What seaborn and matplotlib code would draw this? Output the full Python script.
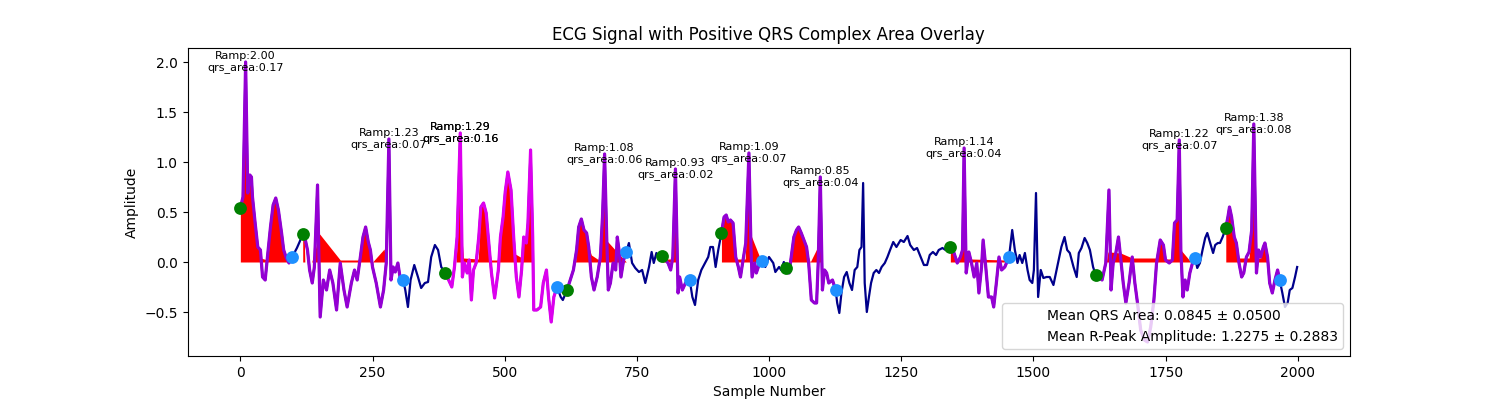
"""
ECG signal with the positive QRS area overlay
"""

import matplotlib
matplotlib.use("Agg")
import matplotlib.pyplot as plt
import pandas as pd
import seaborn as sns

# ECG samples (sample number, amplitude)
samples = [
    0, 5, 10, 14, 18, 21, 23, 28, 33, 38, 42, 47, 52, 57, 62, 67, 72, 78, 82, 87, 92, 97,
    102, 107, 112, 118,
    123, 127, 131, 136, 140, 146, 149, 151, 157, 163, 169, 175, 182, 189, 196, 202, 210, 216, 221,
    227, 232, 237, 242, 246, 250, 257, 265, 271, 276, 281, 285, 289, 293, 298, 302, 308,
    312, 317, 322, 329, 336, 342, 349, 355, 361, 368, 374, 380, 388,
    394, 400, 405, 410, 416, 420, 424, 429, 433, 437, 441, 446, 451, 455, 460, 465, 470, 475, 481,
    488, 492, 497, 501, 506, 512, 517, 522, 527, 532, 536, 541, 544, 549, 553, 555, 561, 568, 573,
    579, 583, 588, 593, 599,
    606, 610, 618,
    624, 630, 636, 640, 645, 650, 655, 659, 664, 669, 675, 681, 685, 689, 693, 696, 700, 705, 710,
    713, 717, 720, 725, 730,
    735, 741, 747, 754, 760, 766, 773, 778, 782, 787, 792, 798,
    804, 809, 814, 818, 823, 828, 831, 836, 842, 850,
    855, 860, 866, 872, 879, 885, 889, 894, 899, 904, 910,
    915, 919, 923, 927, 932, 937, 942, 946, 950, 956, 962, 966, 968, 973, 976, 981, 987,
    993, 1000, 1008, 1012, 1019, 1023, 1028, 1033,
    1038, 1042, 1047, 1052, 1056, 1061, 1066, 1071, 1075, 1080, 1086, 1090, 1093, 1097, 1101, 1105,
    1109, 1113, 1120, 1126,
    1129, 1133, 1137, 1142, 1147, 1152, 1157, 1162, 1167, 1171, 1175, 1178, 1181, 1185, 1189, 1193,
    1198, 1203, 1208, 1213, 1219, 1224, 1229, 1235, 1241, 1249, 1255, 1262, 1267, 1274, 1280, 1287,
    1293, 1299, 1304, 1310, 1316, 1321, 1328, 1334, 1343,
    1350, 1356, 1362, 1366, 1369, 1373, 1378, 1383, 1388, 1393, 1397, 1402, 1405, 1410, 1415, 1421,
    1425, 1430, 1435, 1440, 1446, 1454,
    1460, 1465, 1470, 1474, 1479, 1484, 1489, 1493, 1498, 1501, 1505, 1509, 1514, 1519, 1525, 1531,
    1538, 1544, 1548, 1553, 1559, 1564, 1569, 1576, 1582, 1586, 1591, 1597, 1602, 1607, 1613, 1618,
    1624, 1630, 1637, 1643, 1647, 1651, 1656, 1661, 1665, 1670, 1675, 1681, 1687, 1692, 1697, 1703,
    1710, 1716, 1722, 1728, 1733, 1740, 1746, 1750, 1757, 1763, 1767, 1772, 1776, 1779, 1783, 1787,
    1791, 1796, 1801, 1806,
    1810, 1815, 1820, 1825, 1829, 1834, 1840, 1844, 1849, 1853, 1858, 1864,
    1868, 1871, 1875, 1880, 1884, 1889, 1894, 1898, 1903, 1908, 1913, 1917, 1922, 1926, 1930, 1935,
    1938, 1943, 1947, 1952, 1957, 1962, 1966,
    1971, 1976, 1981, 1985, 1990, 1995, 1999,
]
amplitude = [
    0.54, 0.65, 2.00, 0.69, 0.87, 0.85, 0.65, 0.39, 0.15, 0.12, -0.15, -0.18, 0.09, 0.35, 0.57, 0.64,
    0.52, 0.29, 0.12, 0.04, -0.01, 0.05,
    0.09, 0.14, 0.20, 0.28,
    0.22, 0.12, -0.08, -0.21, -0.05, 0.77, -0.05, -0.55, -0.18, -0.28, -0.08, -0.21, -0.48, -0.01,
    -0.28, -0.45, -0.21, -0.08, -0.18,
    0.05, 0.25, 0.35, 0.20, 0.12, -0.05, -0.21, -0.45, -0.28, -0.01, 1.23, -0.18, -0.05, -0.10,
    -0.01, -0.15, -0.18,
    -0.28, -0.45, -0.18, -0.03, -0.15, -0.26, -0.21, -0.20, 0.05, 0.17, 0.12, -0.05, -0.11,
    -0.18, -0.25, -0.05, 0.25, 1.29, -0.15, -0.01, -0.11, 0.02, -0.38, -0.08, -0.01, 0.25, 0.55,
    0.59, 0.49, 0.19, -0.11, -0.36,
    -0.08, 0.25, 0.45, 0.70, 0.90, 0.72, 0.25, -0.15, -0.35, -0.08, 0.25, 0.19, 0.39, 1.12, 0.25,
    -0.48, -0.48, -0.45, -0.21,
    -0.08, -0.35, -0.60, -0.35, -0.25,
    -0.35, -0.38, -0.28,
    -0.18, -0.08, 0.12, 0.35, 0.43, 0.32, 0.29, 0.15, -0.15, -0.28, -0.15, 0.05, 0.45, 1.08, 0.25,
    -0.28, -0.21, -0.01, -0.08,
    0.25, 0.09, -0.15, 0.02, 0.10,
    0.19, -0.01, -0.06, -0.10, -0.08, -0.21, -0.05, 0.10, -0.01, 0.09, 0.04, 0.06,
    0.02, -0.01, -0.08, 0.05, 0.93, -0.31, -0.15, -0.28, -0.21, -0.18,
    -0.35, -0.43, -0.18, -0.08, -0.01, 0.05, 0.15, 0.15, -0.05, 0.12, 0.29,
    0.45, 0.47, 0.40, 0.42, 0.39, 0.05, -0.05, -0.15, -0.01, 0.19, 1.09, 0.12, -0.15, -0.01, -0.11,
    -0.03, 0.01,
    -0.05, 0.05, -0.01, -0.10, -0.05, -0.08, 0.00, -0.06,
    -0.11, 0.05, 0.25, 0.32, 0.35, 0.29, 0.22, 0.15, -0.01, -0.38, -0.41, -0.41, -0.01, 0.85, -0.28,
    -0.08, -0.11, -0.21, -0.18, -0.28,
    -0.41, -0.51, -0.31, -0.15, -0.10, -0.21, -0.28, -0.08, -0.05, 0.12, 0.15, 0.79, -0.21, -0.50,
    -0.35, -0.21, -0.11, -0.08, -0.11, -0.05, -0.01, 0.05, 0.12, 0.20, 0.15, 0.22, 0.20, 0.26, 0.17,
    0.12, 0.14, 0.05, -0.03, -0.03, 0.07, 0.10, 0.07, 0.12, 0.14, 0.12, 0.15,
    0.09, -0.01, 0.05, 0.12, 1.14, -0.11, 0.10, -0.01, -0.15, -0.01, -0.31, -0.05, 0.22, -0.05,
    -0.35, -0.35, -0.45, -0.21, 0.05, -0.08, -0.05, 0.05,
    0.32, 0.12, -0.01, 0.07, -0.01, 0.09, -0.08, -0.18, -0.21, -0.08, 0.69, -0.35, -0.08, -0.16,
    -0.15, -0.15, -0.23, -0.08, 0.02, 0.15, 0.25, 0.12, 0.09, -0.05, -0.15, 0.09, 0.14, 0.24, 0.19,
    0.12, -0.05, -0.13,
    -0.15, -0.18, -0.01, 0.72, -0.28, -0.01, 0.09, 0.25, 0.05, -0.21, -0.41, -0.21, 0.05, -0.21,
    -0.41, -0.68, -0.78, -0.80, -0.65, -0.38, -0.01, 0.22, 0.17, 0.02, -0.01, 0.02, 0.39, 0.42,
    1.22, 0.12, -0.35, -0.18, -0.28, -0.11, -0.01, 0.04,
    -0.06, -0.01, 0.12, 0.24, 0.29, 0.20, 0.09, 0.17, 0.19, 0.19, 0.25, 0.34,
    0.45, 0.55, 0.45, 0.25, 0.19, -0.01, -0.15, -0.11, 0.05, 0.10, 0.32, 1.38, -0.11, 0.12, 0.05,
    0.15, 0.19, 0.05, -0.21, -0.31, -0.18, -0.08, -0.18,
    -0.31, -0.45, -0.41, -0.28, -0.26, -0.15, -0.05,
]

# QRS onset / offset samples
qrs_onsets = [0, 118, 388, 618, 798, 910, 1033, 1343, 1618, 1864]
qrs_offsets = [97, 308, 599, 730, 850, 987, 1126, 1454, 1806, 1966]
qrs_colors = ["darkviolet", "darkviolet", "#DC00EE", "darkviolet", "darkviolet",
              "darkviolet", "darkviolet", "darkviolet", "darkviolet", "darkviolet"]

# outline of the red positive area of every complex, as it shows in the picture
area_x = [
    [0, 5, 10, 14, 18, 21, 23, 28, 33, 38, 52, 57, 62, 67, 72, 78, 82, 87, 97],
    [118, 121, 122, 135, 150, 189, 226, 232, 237, 242, 246, 250, 272, 275],
    [408, 411, 416, 419, 422, 450, 455, 460, 465, 470, 474, 490, 492, 497, 501, 506, 512, 517, 520,
     533, 536, 541, 544, 549, 552, 553],
    [634, 636, 640, 645, 650, 655, 659, 664, 681, 685, 689, 692, 730],
    [798, 804, 818, 823, 825],
    [910, 915, 919, 923, 927, 932, 937, 955, 962, 965, 986],
    [1040, 1042, 1047, 1052, 1056, 1061, 1066, 1071, 1075, 1078, 1092, 1096, 1098],
    [1343, 1350, 1356, 1362, 1366, 1369, 1372, 1378, 1382, 1446, 1450],
    [1638, 1641, 1645, 1665, 1687, 1733, 1740, 1746, 1750, 1763, 1767, 1772, 1776, 1779, 1795, 1797],
    [1864, 1868, 1871, 1875, 1880, 1884, 1888, 1908, 1913, 1917, 1920, 1930, 1935, 1938, 1943, 1944],
]
area_y = [
    [0.54, 0.65, 2.00, 0.69, 0.87, 0.85, 0.65, 0.39, 0.15, 0.04, 0.02, 0.35, 0.57, 0.64, 0.52, 0.29,
     0.12, 0.04, 0.01],
    [0.28, 0.22, 0.0, 0.0, 0.28, 0.02, 0.02, 0.25, 0.35, 0.20, 0.12, 0.0, 0.13, 0.0],
    [0.0, 0.30, 1.20, 0.25, 0.04, 0.03, 0.55, 0.59, 0.49, 0.19, 0.02, 0.02, 0.25, 0.45, 0.70, 0.90,
     0.72, 0.15, 0.08, 0.04, 0.25, 0.19, 0.39, 1.00, 0.10, 0.0],
    [0.0, 0.12, 0.35, 0.43, 0.32, 0.29, 0.15, 0.07, 0.01, 0.45, 1.00, 0.22, 0.0],
    [0.06, 0.03, 0.03, 0.90, 0.0],
    [0.29, 0.45, 0.47, 0.40, 0.42, 0.39, 0.03, 0.03, 1.00, 0.28, 0.0],
    [0.0, 0.05, 0.25, 0.32, 0.35, 0.29, 0.22, 0.15, 0.04, 0.0, 0.15, 0.60, 0.0],
    [0.15, 0.09, 0.02, 0.05, 0.12, 1.00, 0.10, 0.08, 0.03, 0.02, 0.0],
    [0.0, 0.10, 0.10, 0.09, 0.04, 0.04, 0.22, 0.17, 0.03, 0.03, 0.39, 0.42, 1.20, 0.12, 0.02, 0.0],
    [0.34, 0.45, 0.55, 0.45, 0.25, 0.19, 0.04, 0.04, 0.32, 1.30, 0.04, 0.04, 0.15, 0.19, 0.03, 0.0],
]

# R peaks with their labels
r_peaks = [10, 281, 416, 416, 689, 823, 962, 1097, 1369, 1776, 1917]
r_amps = [2.00, 1.23, 1.29, 1.29, 1.08, 0.93, 1.09, 0.85, 1.14, 1.22, 1.38]
qrs_areas = [0.17, 0.07, 0.16, 0.16, 0.06, 0.02, 0.07, 0.04, 0.04, 0.07, 0.08]

mean_area, std_area = 0.0845, 0.0500
mean_ramp, std_ramp = 1.2275, 0.2883

df = pd.DataFrame({"sample": samples, "amp": amplitude})
sig = df.set_index("sample")["amp"]

fig = plt.figure(figsize=(15, 4), dpi=100)
ax = fig.add_subplot(111)

sns.lineplot(x="sample", y="amp", data=df, color="darkblue", linewidth=1.6, sort=False, ax=ax)

for on, off, col, fx, fy in zip(qrs_onsets, qrs_offsets, qrs_colors, area_x, area_y):
    seg = df[(df["sample"] >= on) & (df["sample"] <= off)]
    ax.fill_between(fx, fy, 0, color="red", linewidth=0, zorder=2)
    sns.lineplot(x="sample", y="amp", data=seg, color=col, linewidth=2.3, sort=False, ax=ax, zorder=3)

sns.scatterplot(x=qrs_onsets, y=sig[qrs_onsets].values, color="green", s=85,
                linewidth=0, ax=ax, zorder=4)
sns.scatterplot(x=qrs_offsets, y=sig[qrs_offsets].values, color="dodgerblue", s=85,
                linewidth=0, ax=ax, zorder=4)

for x, r, a in zip(r_peaks, r_amps, qrs_areas):
    ax.text(x, r, "Ramp:{:.2f}\nqrs_area:{:.2f}".format(r, a), ha="center", va="center", fontsize=8)

ax.plot([], [], " ", label="Mean QRS Area: {:.4f} ± {:.4f}".format(mean_area, std_area))
ax.plot([], [], " ", label="Mean R-Peak Amplitude: {:.4f} ± {:.4f}".format(mean_ramp, std_ramp))
ax.legend(loc="lower right")

ax.set_title("ECG Signal with Positive QRS Complex Area Overlay")
ax.set_xlabel("Sample Number")
ax.set_ylabel("Amplitude")

plt.savefig("out.png", dpi=100)
